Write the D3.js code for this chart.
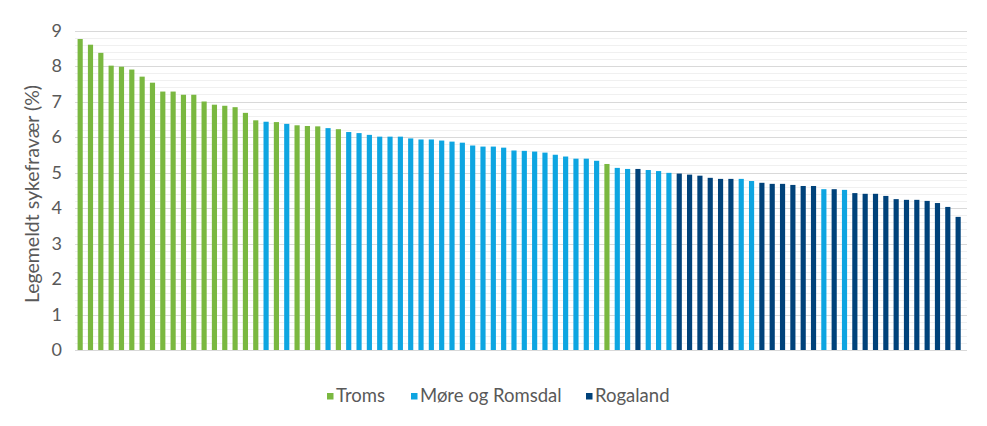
<!DOCTYPE html>
<html>
<head>
<meta charset="utf-8">
<script src="https://cdn.jsdelivr.net/npm/d3@7"></script>
<style>
  html, body { margin: 0; padding: 0; background: #fff; }
  svg { display: block; font-family: Lato, "Open Sans", sans-serif; }
</style>
</head>
<body>
<svg id="chart" width="987" height="426"></svg>
<script>
// ---- data ----
const values = [
  8.76, 8.60, 8.37, 8.01, 7.98, 7.90, 7.70, 7.53, 7.28, 7.28,
  7.19, 7.19, 7.00, 6.91, 6.88, 6.84, 6.68, 6.47, 6.43, 6.42,
  6.37, 6.33, 6.31, 6.30, 6.25, 6.22, 6.14, 6.11, 6.06, 6.01,
  6.01, 6.01, 5.96, 5.93, 5.93, 5.90, 5.87, 5.84, 5.76, 5.73,
  5.73, 5.70, 5.62, 5.61, 5.59, 5.56, 5.50, 5.45, 5.39, 5.39,
  5.33, 5.24, 5.13, 5.10, 5.10, 5.07, 5.04, 4.99, 4.97, 4.94,
  4.91, 4.85, 4.82, 4.82, 4.82, 4.76, 4.71, 4.68, 4.68, 4.65,
  4.62, 4.62, 4.53, 4.53, 4.51, 4.42, 4.40, 4.40, 4.34, 4.25,
  4.23, 4.23, 4.20, 4.14, 4.03, 3.75
];
const regions = [
  "T","T","T","T","T","T","T","T","T","T",
  "T","T","T","T","T","T","T","T","M","T",
  "M","T","T","T","M","T","M","M","M","M",
  "M","M","M","M","M","M","M","M","M","M",
  "M","M","M","M","M","M","M","M","M","M",
  "M","T","M","M","R","M","M","M","R","R",
  "R","R","R","R","M","M","R","R","R","R",
  "R","R","M","R","M","R","R","R","R","R",
  "R","R","R","R","R","R"
];
const seriesKeys = ["T", "M", "R"];
const seriesNames = ["Troms", "Møre og Romsdal", "Rogaland"];
const seriesColors = ["#7AB840", "#0EA5E1", "#00427A"];
const yTicks = [0, 1, 2, 3, 4, 5, 6, 7, 8, 9];
const yMinorTicks = [0.2,0.4,0.6,0.8,1.2,1.4,1.6,1.8,2.2,2.4,2.6,2.8,3.2,3.4,3.6,3.8,4.2,4.4,4.6,4.8,5.2,5.4,5.6,5.8,6.2,6.4,6.6,6.8,7.2,7.4,7.6,7.8,8.2,8.4,8.6,8.8];
const yTitle = "Legemeldt sykefravær (%)";

// ---- layout ----
const svg = d3.select("#chart");
const plotLeft = 75, plotRight = 967, plotTop = 30.5, plotBottom = 350;

const x = d3.scaleBand()
  .domain(values.map((d, i) => i))
  .range([75, 963.3])
  .paddingInner(0.5)
  .paddingOuter(0.25);

const y = d3.scaleLinear().domain([0, 9]).range([plotBottom, plotTop]);
const color = d3.scaleOrdinal().domain(seriesKeys).range(seriesColors);

// minor gridlines
svg.append("g")
  .selectAll("line")
  .data(yMinorTicks)
  .join("line")
  .attr("x1", plotLeft).attr("x2", plotRight)
  .attr("y1", d => Math.round(y(d)) + 0.5).attr("y2", d => Math.round(y(d)) + 0.5)
  .attr("stroke", "#f0f0f0").attr("stroke-width", 1);

// major gridlines + tick labels via axis
const yAxis = d3.axisLeft(y).tickValues(yTicks).tickSize(-(plotRight - plotLeft)).tickPadding(13).tickFormat(d3.format("d"));
const gy = svg.append("g").attr("transform", `translate(${plotLeft},0)`).call(yAxis);
gy.select(".domain").remove();
gy.selectAll(".tick line").attr("stroke", "#d9d9d9").attr("stroke-width", 1);
gy.selectAll(".tick").attr("transform", d => `translate(0,${Math.round(y(d)) + 0.5})`);
gy.selectAll(".tick text")
  .attr("fill", "#595959")
  .style("font-size", "18px")
  .style("font-family", "Lato, 'Open Sans', sans-serif");

// bars
svg.append("g")
  .selectAll("rect")
  .data(values)
  .join("rect")
  .attr("x", (d, i) => x(i))
  .attr("width", x.bandwidth())
  .attr("y", d => y(d))
  .attr("height", d => y(0) - y(d))
  .attr("fill", (d, i) => color(regions[i]));

// y title
svg.append("text")
  .attr("transform", `translate(39,194) rotate(-90)`)
  .attr("text-anchor", "middle")
  .attr("fill", "#595959")
  .style("font-size", "19.5px")
  .text(yTitle);

// legend
const legendX = [327, 411, 586];
const lg = svg.append("g");
seriesKeys.forEach((k, i) => {
  lg.append("rect")
    .attr("x", legendX[i]).attr("y", 393)
    .attr("width", 6.5).attr("height", 6.5)
    .attr("fill", color(k));
  lg.append("text")
    .attr("x", legendX[i] + 9).attr("y", 401.5)
    .attr("fill", "#595959")
    .style("font-size", "18.5px")
    .text(seriesNames[i]);
});
</script>
</body>
</html>
